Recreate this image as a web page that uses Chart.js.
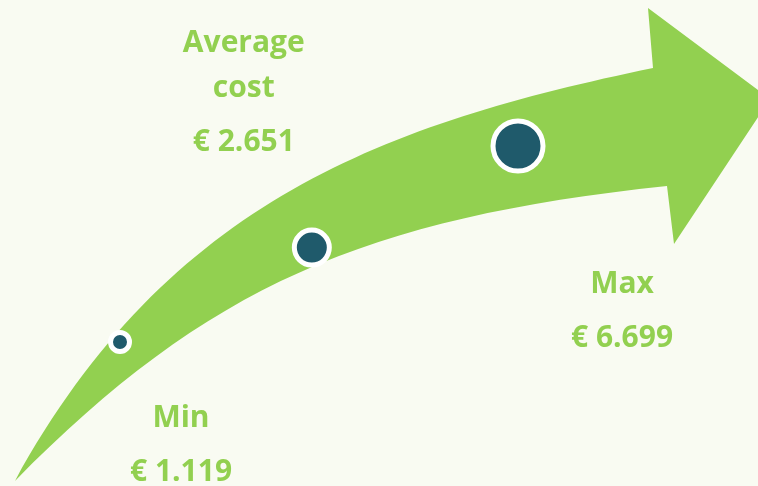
<!DOCTYPE html>
<html>
<head>
<meta charset="utf-8">
<script src="https://cdn.jsdelivr.net/npm/chart.js@4"></script>
<style>
  html, body { margin: 0; padding: 0; background: #f9fbf2; }
  canvas { display: block; }
</style>
</head>
<body>
<canvas id="cost-chart" width="758" height="486"></canvas>
<script>
// data
const categories = [['Min'], ['Average', 'cost'], ['Max']];
const costs = [1119, 2651, 6699];

const green = '#92d050';
const teal = '#1f5a6b';

function euro(v) {
  return '€ ' + String(v).replace(/\B(?=(\d{3})+(?!\d))/g, '.');
}

// where the text block sits relative to its dot
const labelOffsets = [
  { dx: 61, dy: 85 },
  { dx: -68, dy: -196 },
  { dx: 104, dy: 147 }
];

const background = {
  id: 'background',
  beforeDraw(chart) {
    const ctx = chart.ctx;
    ctx.save();
    ctx.fillStyle = '#f9fbf2';
    ctx.fillRect(0, 0, chart.width, chart.height);
    ctx.restore();
  }
};

// the big curved arrow behind the dots
const arrow = {
  id: 'arrow',
  beforeDatasetsDraw(chart) {
    const ctx = chart.ctx;
    ctx.save();
    ctx.beginPath();
    ctx.moveTo(15, 481);
    ctx.bezierCurveTo(169, 200, 388, 123, 653, 68);
    ctx.lineTo(648, 8);
    ctx.lineTo(770, 99);
    ctx.lineTo(674, 244);
    ctx.lineTo(667, 186);
    ctx.bezierCurveTo(365, 218, 207, 286, 15, 481);
    ctx.closePath();
    ctx.fillStyle = green;
    ctx.fill();
    ctx.restore();
  }
};

const labels = {
  id: 'labels',
  afterDatasetsDraw(chart) {
    const ctx = chart.ctx;
    const points = chart.getDatasetMeta(0).data;
    ctx.save();
    ctx.fillStyle = green;
    ctx.font = 'bold 30px "Open Sans"';
    ctx.textAlign = 'center';
    ctx.textBaseline = 'alphabetic';
    points.forEach((pt, i) => {
      const off = labelOffsets[i];
      const x = pt.x + off.dx;
      let y = pt.y + off.dy;
      categories[i].forEach((line, j) => {
        if (j > 0) y += 45;
        ctx.fillText(line, x, y);
      });
      ctx.fillText(euro(costs[i]), x, y + 54);
    });
    ctx.restore();
  }
};

new Chart(document.getElementById('cost-chart'), {
  type: 'scatter',
  data: {
    labels: categories,
    datasets: [{
      data: costs.map(v => ({ x: v, y: v })),
      pointRadius: [9.5, 17.5, 25],
      pointBackgroundColor: teal,
      pointBorderColor: '#ffffff',
      pointBorderWidth: 5,
      clip: false
    }]
  },
  options: {
    responsive: false,
    animation: false,
    events: [],
    layout: { padding: { left: 120, right: 240, top: 146, bottom: 144 } },
    plugins: { legend: { display: false }, tooltip: { enabled: false } },
    scales: {
      x: { type: 'logarithmic', display: false, min: Math.min(...costs), max: Math.max(...costs) },
      y: { type: 'logarithmic', display: false, min: Math.min(...costs), max: Math.max(...costs) }
    }
  },
  plugins: [background, arrow, labels]
});
</script>
</body>
</html>
